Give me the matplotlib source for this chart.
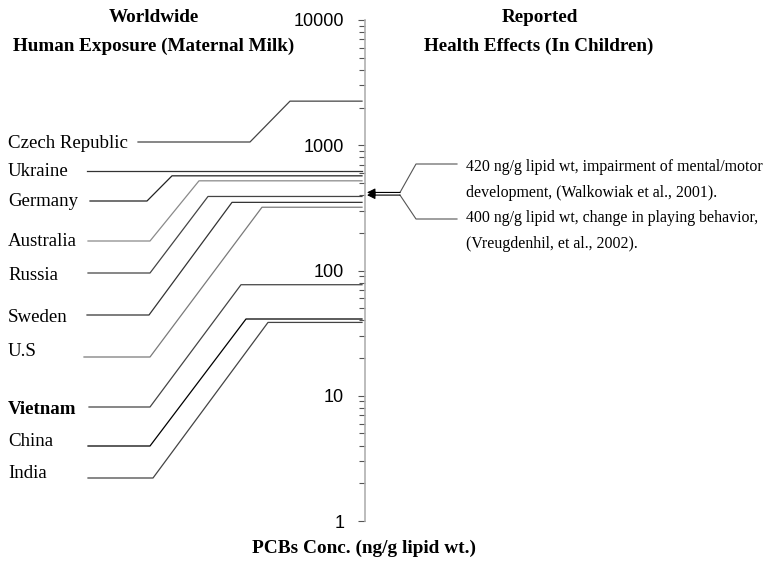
import numpy as np
import matplotlib.pyplot as plt
from matplotlib.ticker import FuncFormatter, NullFormatter, LogLocator

# PCB concentrations in maternal milk (ng/g lipid wt.)
countries = ["Czech Republic", "Ukraine", "Germany", "Australia", "Russia",
             "Sweden", "U.S", "Vietnam", "China", "India"]
conc = [2250, 620, 570, 520, 390, 350, 320, 77, 41, 38.5]

# reported health effects
effect_conc = [420, 400]
effect_text = ["420 ng/g lipid wt, impairment of mental/motor",
               "development, (Walkowiak et al., 2001).",
               "400 ng/g lipid wt, change in playing behavior,",
               "(Vreugdenhil, et al., 2002)."]

# layout in pixel units (figure is 776 x 563)
W, H = 776, 563
Y_TOP, Y_BOT = 20, 521          # pixel rows of 10000 and 1
AXIS_X = 365
text_row = [144, 172, 202, 241, 275, 317, 352, 410, 442, 473]
line_row = [142, 171, 201, 241, 273, 315, 357, 407, 446, 478]
x_start = [138, 87, 90, 88, 88, 87, 84, 89, 88, 88]
x_elbow = [250, None, 147, 150, 150, 149, 150, 150, 150, 153]
x_top = [290, None, 172, 199, 208, 232, 262, 241, 246, 268]
colors = ["#444444", "#333333", "#222222", "#8a8a8a", "#444444",
          "#333333", "#7a7a7a", "#444444", "#000000", "#444444"]

serif = ["Liberation Serif", "DejaVu Serif"]
sans = ["Liberation Sans", "DejaVu Sans"]


def py_to_val(py):
    return 10 ** (4 * (Y_BOT - py) / (Y_BOT - Y_TOP))


fig = plt.figure(figsize=(W / 100, H / 100), dpi=100)
ax = fig.add_axes([0, (H - Y_BOT) / H, 1, (Y_BOT - Y_TOP) / H])
ax.set_xlim(0, W)
ax.set_yscale("log")
ax.set_ylim(1, 1e4)

for s in ["top", "right", "bottom"]:
    ax.spines[s].set_visible(False)
ax.spines["left"].set_position(("data", AXIS_X))
ax.spines["left"].set_color("#b0b0b0")
ax.spines["left"].set_linewidth(1.2)
ax.set_xticks([])
ax.yaxis.set_major_locator(LogLocator(base=10, numticks=10))
ax.yaxis.set_minor_locator(LogLocator(base=10, subs=np.arange(2, 10), numticks=20))
ax.yaxis.set_major_formatter(FuncFormatter(lambda v, _: f"{v:g}"))
ax.yaxis.set_minor_formatter(NullFormatter())
ax.tick_params(axis="y", which="major", length=5, width=0.8, color="#555555",
               pad=10, labelsize=13)
ax.tick_params(axis="y", which="minor", length=4, width=0.8, color="#555555")
for lab in ax.get_yticklabels():
    lab.set_family(sans)

end_x = AXIS_X - 3
for i, name in enumerate(countries):
    v = conc[i]
    if x_elbow[i] is None:
        xs = [x_start[i], end_x]
        ys = [v, v]
    else:
        ly = py_to_val(line_row[i])
        xs = [x_start[i], x_elbow[i], x_top[i], end_x]
        ys = [ly, ly, v, v]
    ax.plot(xs, ys, color=colors[i], lw=0.9, clip_on=False)
    ax.text(8, py_to_val(text_row[i]), name, ha="left", va="center",
            fontsize=13.6, family=serif,
            fontweight="bold" if name == "Vietnam" else "normal")

# health effect arrows and bracket
for v in effect_conc:
    ax.annotate("", xy=(AXIS_X + 2, v), xytext=(400, v),
                arrowprops=dict(arrowstyle="-|>", color="black", lw=0.8,
                                mutation_scale=12, shrinkA=0, shrinkB=0))
up = py_to_val(164)
lo = py_to_val(219)
ax.plot([400, 416, 457], [effect_conc[0], up, up], color="#555555", lw=0.8)
ax.plot([400, 416, 457], [effect_conc[1], lo, lo], color="#555555", lw=0.8)
for j, t in enumerate(effect_text):
    ax.text(466, py_to_val(167 + j * 25.7), t, ha="left", va="center",
            fontsize=11.4, family=serif)

# headings
def ftext(x, y, s, size):
    fig.text(x / W, 1 - y / H, s, ha="center", va="center", family=serif,
             fontweight="bold", fontsize=size)

ftext(154, 18, "Worldwide", 13.8)
ftext(154, 46, "Human Exposure (Maternal Milk)", 13.8)
ftext(540, 18, "Reported", 13.8)
ftext(539, 46, "Health Effects (In Children)", 13.8)
ftext(364, 548, "PCBs Conc. (ng/g lipid wt.)", 13.9)

fig.savefig("out.png", dpi=100)
